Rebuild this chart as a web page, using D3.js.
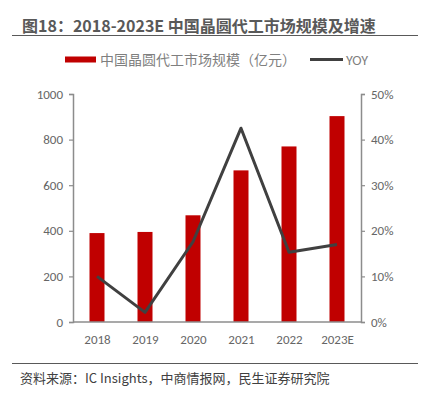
<!DOCTYPE html>
<html>
<head>
<meta charset="utf-8">
<script src="https://cdn.jsdelivr.net/npm/d3@7/dist/d3.min.js"></script>
<style>
  html, body { margin: 0; padding: 0; background: #fff; }
  svg { display: block; font-family: "Noto Sans CJK SC", "Microsoft YaHei", sans-serif; }
</style>
</head>
<body>
<svg id="chart" width="423" height="396"></svg>
<script>
// data
var years = ["2018", "2019", "2020", "2021", "2022", "2023E"];
var marketSize = [390, 395, 468, 665, 770, 903];   // 亿元
var yoy = [10.0, 2.1, 17.6, 42.5, 15.3, 17.0];       // %
var leftTicks = [0, 200, 400, 600, 800, 1000];
var rightTicks = [0, 10, 20, 30, 40, 50];

var svg = d3.select("#chart");
var plot = { left: 73, right: 361, top: 94, bottom: 322 };
var textGrey = "#666666";
var axisGrey = "#8c8c8c";

// title + rules
svg.append("text")
    .attr("x", 22).attr("y", 32)
    .attr("font-size", "16px").attr("font-weight", "bold")
    .attr("fill", "#595959")
    .text("图18：2018-2023E 中国晶圆代工市场规模及增速");
svg.append("line").attr("x1", 12).attr("x2", 418).attr("y1", 35.5).attr("y2", 35.5)
    .attr("stroke", "#595959").attr("stroke-width", 1);
svg.append("line").attr("x1", 12).attr("x2", 418).attr("y1", 363.5).attr("y2", 363.5)
    .attr("stroke", "#595959").attr("stroke-width", 1);
svg.append("text")
    .attr("x", 20).attr("y", 383)
    .attr("font-size", "13px").attr("fill", "#404040")
    .text("资料来源：IC Insights，中商情报网，民生证券研究院");

// scales
var yL = d3.scaleLinear().domain([0, 1000]).range([plot.bottom, plot.top]);
var yR = d3.scaleLinear().domain([0, 50]).range([plot.bottom, plot.top]);
var xc = d3.scalePoint().domain(years).range([plot.left, plot.right]).padding(0.5);

// bars
svg.append("g").selectAll("rect")
    .data(marketSize)
    .enter().append("rect")
    .attr("x", function (d, i) { return xc(years[i]) - 7.5; })
    .attr("width", 15)
    .attr("y", function (d) { return yL(d); })
    .attr("height", function (d) { return yL(0) - yL(d); })
    .attr("fill", "#c00000");

// axes
var left = svg.append("g").attr("transform", "translate(" + plot.left + ",0)")
    .call(d3.axisLeft(yL).tickValues(leftTicks).tickSize(4).tickPadding(6).tickFormat(d3.format("d")));
var right = svg.append("g").attr("transform", "translate(" + plot.right + ",0)")
    .call(d3.axisRight(yR).tickValues(rightTicks).tickSize(4).tickPadding(6).tickFormat(function (d) { return d + "%"; }));
var bottom = svg.append("g").attr("transform", "translate(0," + plot.bottom + ")")
    .call(d3.axisBottom(xc).tickSize(0).tickPadding(13));
[left, right, bottom].forEach(function (g) {
    g.select(".domain").attr("stroke", axisGrey).attr("stroke-width", 1.5);
    g.selectAll(".tick line").attr("stroke", axisGrey).attr("stroke-width", 1.2);
    g.selectAll("text").attr("fill", textGrey).attr("font-size", "13px")
        .attr("font-family", "Calibri, Carlito, 'Open Sans', sans-serif");
});
bottom.select(".domain").attr("d", "M" + plot.left + ",0H" + plot.right);

// YOY line
var line = d3.line()
    .x(function (d, i) { return xc(years[i]); })
    .y(function (d) { return yR(d); });
svg.append("path")
    .datum(yoy)
    .attr("d", line)
    .attr("fill", "none")
    .attr("stroke", "#404040")
    .attr("stroke-width", 3)
    .attr("stroke-linejoin", "round");

// legend
var legend = svg.append("g");
legend.append("rect").attr("x", 65).attr("y", 56.5).attr("width", 31).attr("height", 6).attr("fill", "#c00000");
legend.append("text").attr("x", 100).attr("y", 64.5)
    .attr("font-size", "14px").attr("fill", "#7f7f7f")
    .text("中国晶圆代工市场规模（亿元）");
legend.append("line").attr("x1", 310).attr("x2", 343).attr("y1", 59.5).attr("y2", 59.5)
    .attr("stroke", "#404040").attr("stroke-width", 3);
legend.append("text").attr("x", 346).attr("y", 64.5)
    .attr("font-size", "14px").attr("fill", "#7f7f7f")
    .attr("font-family", "Calibri, Carlito, 'Open Sans', sans-serif")
    .text("YOY");
</script>
</body>
</html>
